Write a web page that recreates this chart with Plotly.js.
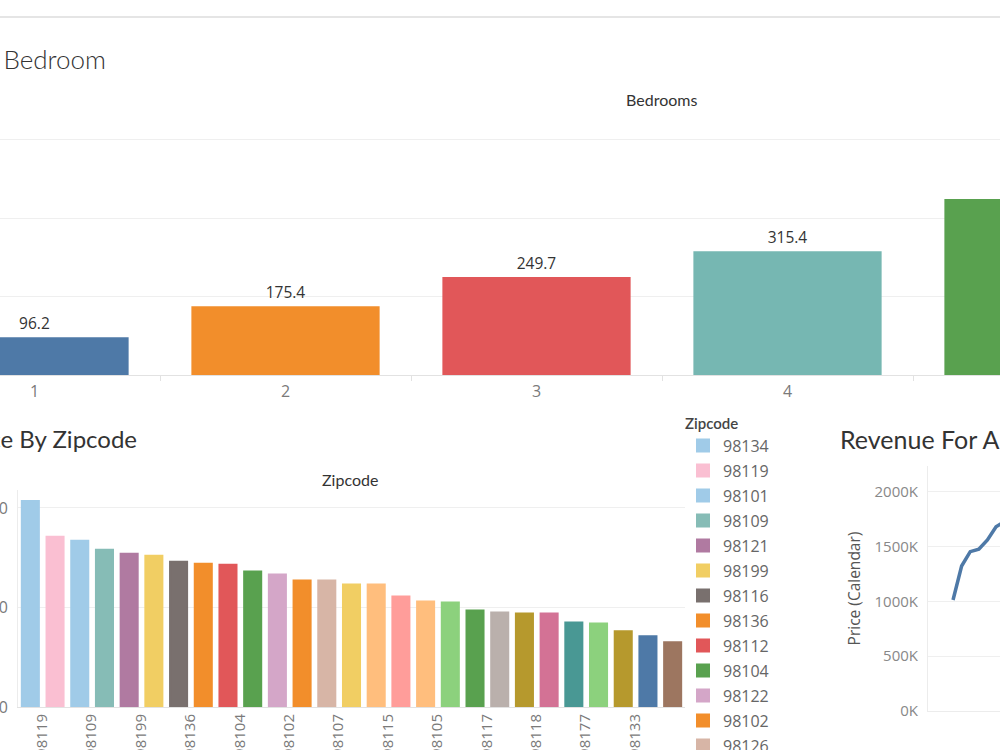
<!DOCTYPE html>
<html>
<head>
<meta charset="utf-8">
<script src="https://cdn.plot.ly/plotly-3.0.1.min.js"></script>
<style>
  html, body { margin: 0; padding: 0; width: 1000px; height: 750px; overflow: hidden; background: #ffffff; }
  /* the dashboard canvas is wider and taller than the window; it is scrolled so the left edge sits off view */
  #dash { position: absolute; left: -200px; top: 0; width: 1650px; height: 1150px; }
</style>
</head>
<body>
<div id="dash"></div>
<script>
// ---- Average nightly price by number of bedrooms ----
const bedroomCats = ['1', '2', '3', '4', '5'];
const bedroomPrice = [96.2, 175.4, 249.7, 315.4, 448.4];

// ---- Average nightly price by zipcode (sorted high to low) ----
const zipcodes = ['98134', '98119', '98101', '98109', '98121', '98199', '98116', '98136', '98112',
  '98104', '98122', '98102', '98126', '98107', '98103', '98115', '98144', '98105', '98146',
  '98117', '98178', '98118', '98108', '98177', '98106', '98133', '98125'];
const zipPrice = [207, 171, 167, 158, 154, 152, 146, 144, 143,
  136, 133, 127, 127, 123, 123, 111, 106, 105, 97,
  95, 94, 94, 85, 84, 76, 71, 65];

// ---- Weekly calendar revenue ----
const weekStart = ['2016-01-04', '2016-01-11', '2016-01-18', '2016-01-25', '2016-02-01', '2016-02-08', '2016-02-15'];
const revenueK = [1014, 1324, 1455, 1477, 1562, 1683, 1730];

// Tableau 10 / Tableau 20 colours
const bedroomColors = ['#4E79A7', '#F28E2B', '#E15759', '#76B7B2', '#59A14F'];
const zipColors = ['#A0CBE8', '#FABFD2', '#A0CBE8', '#86BCB6', '#B07AA1', '#F1CE63', '#79706E', '#F28E2B', '#E15759',
  '#59A14F', '#D4A6C8', '#F28E2B', '#D7B5A6', '#F1CE63', '#FFBE7D', '#FF9D9A', '#FFBE7D', '#8CD17D', '#59A14F',
  '#BAB0AC', '#B6992D', '#D37295', '#499894', '#8CD17D', '#B6992D', '#4E79A7', '#9D7660'];

// canvas size, used to place panels in paper fractions
const W = 1650, H = 1150, OX = 200;
const px = x => (x + OX) / W;
const py = y => 1 - y / H;

const NUM_FONT = '"Open Sans", "Noto Sans", sans-serif';
const TITLE_FONT = 'Lato, "Open Sans", sans-serif';
const GRID = '#efefef';
const AXIS = '#e2e2e2';
const TICK = '#7a7a7a';

const traces = [];

traces.push({
  type: 'bar',
  x: bedroomCats,
  y: bedroomPrice,
  xaxis: 'x', yaxis: 'y',
  width: 0.75,
  marker: { color: bedroomColors },
  texttemplate: '%{y:.1f}',
  textposition: 'outside',
  textfont: { family: NUM_FONT, size: 15.5, color: '#333333' },
  cliponaxis: false,
  showlegend: false,
  hovertemplate: 'Bedrooms %{x}<br>Avg. Price %{y:.1f}<extra></extra>'
});

zipcodes.forEach((z, i) => {
  traces.push({
    type: 'bar',
    x: [z],
    y: [zipPrice[i]],
    name: z,
    legendgroup: z,
    xaxis: 'x2', yaxis: 'y2',
    width: 0.69,
    marker: { color: zipColors[i], line: { color: zipColors[i], width: 2 } },
    hovertemplate: 'Zipcode %{x}<br>Avg. Price %{y}<extra></extra>'
  });
});

traces.push({
  type: 'scatter',
  mode: 'lines',
  x: weekStart,
  y: revenueK,
  xaxis: 'x3', yaxis: 'y3',
  line: { color: '#4E79A7', width: 3.5 },
  showlegend: false,
  hovertemplate: '%{x}<br>%{y}K<extra></extra>'
});

const layout = {
  width: W, height: H,
  margin: { l: 0, r: 0, t: 0, b: 0, pad: 0 },
  paper_bgcolor: '#ffffff',
  plot_bgcolor: 'rgba(0,0,0,0)',
  barmode: 'overlay',
  font: { family: NUM_FONT, color: '#555555' },
  showlegend: true,

  xaxis: {
    domain: [px(-91), px(1164)],
    anchor: 'y',
    type: 'category',
    showgrid: false,
    showline: true, linecolor: AXIS, linewidth: 1,
    ticks: 'outside', tickson: 'boundaries', ticklen: 5, tickcolor: AXIS,
    ticklabelstandoff: 2,
    tickfont: { family: NUM_FONT, size: 16, color: TICK },
    fixedrange: true
  },
  yaxis: {
    domain: [py(375), py(116)],
    anchor: 'x',
    range: [0, 660],
    dtick: 200,
    showgrid: true, gridcolor: GRID,
    zeroline: false,
    tickfont: { family: NUM_FONT, size: 15, color: TICK },
    fixedrange: true
  },

  xaxis2: {
    domain: [px(18), px(685)],
    anchor: 'y2',
    type: 'category',
    categoryorder: 'array', categoryarray: zipcodes,
    tickmode: 'array',
    tickvals: zipcodes.filter((z, i) => i % 2 === 1),
    ticktext: zipcodes.filter((z, i) => i % 2 === 1),
    tickangle: -90,
    ticklabelshift: -13,
    ticklabelstandoff: 0,
    showgrid: false,
    showline: true, linecolor: AXIS, linewidth: 1,
    tickfont: { family: NUM_FONT, size: 15, color: TICK },
    fixedrange: true
  },
  yaxis2: {
    domain: [py(707), py(490)],
    anchor: 'x2',
    range: [0, 218],
    dtick: 100,
    showgrid: true, gridcolor: GRID,
    zeroline: false,
    showline: true, linecolor: '#ececec', linewidth: 1,
    ticklabelstandoff: 6,
    tickfont: { family: NUM_FONT, size: 16, color: TICK },
    fixedrange: true
  },

  xaxis3: {
    domain: [px(928), 1],
    anchor: 'y3',
    type: 'date',
    range: ['2015-12-14 15:00', '2017-02-11 12:00'],
    showgrid: false,
    showticklabels: false,
    showline: true, linecolor: '#ececec', linewidth: 1,
    fixedrange: true
  },
  yaxis3: {
    domain: [py(711), py(466)],
    anchor: 'x3',
    range: [0, 2237],
    dtick: 500,
    ticksuffix: 'K',
    showgrid: true, gridcolor: GRID,
    zeroline: false,
    showline: true, linecolor: '#ececec', linewidth: 1,
    ticklabelstandoff: 6,
    tickfont: { family: NUM_FONT, size: 15, color: '#888888' },
    title: { text: 'Price (Calendar)', font: { family: NUM_FONT, size: 15.5, color: '#555555' }, standoff: 10 },
    fixedrange: true
  },

  legend: {
    x: px(683), xanchor: 'left',
    y: py(409), yanchor: 'top',
    traceorder: 'grouped',
    tracegroupgap: 1.2,
    bgcolor: 'rgba(0,0,0,0)',
    borderwidth: 0,
    font: { family: NUM_FONT, size: 16, color: '#666666' },
    title: { text: 'Zipcode', font: { family: TITLE_FONT, size: 15, color: '#444444', weight: 600 } }
  },

  annotations: [
    { text: 'Average Price By Bedroom', xref: 'paper', yref: 'paper', x: px(108), y: py(59),
      xanchor: 'right', yanchor: 'middle', showarrow: false,
      font: { family: TITLE_FONT, size: 26, weight: 300, color: '#333333' } },
    { text: 'Bedrooms', xref: 'paper', yref: 'paper', x: px(661), y: py(99),
      xanchor: 'center', yanchor: 'middle', showarrow: false,
      font: { family: TITLE_FONT, size: 16, color: '#333333' } },
    { text: 'Average Price By Zipcode', xref: 'paper', yref: 'paper', x: px(139), y: py(439),
      xanchor: 'right', yanchor: 'middle', showarrow: false,
      font: { family: TITLE_FONT, size: 24, color: '#333333' } },
    { text: 'Zipcode', xref: 'paper', yref: 'paper', x: px(350), y: py(479),
      xanchor: 'center', yanchor: 'middle', showarrow: false,
      font: { family: TITLE_FONT, size: 16, color: '#333333' } },
    { text: 'Revenue For All Listings', xref: 'paper', yref: 'paper', x: px(838), y: py(439),
      xanchor: 'left', yanchor: 'middle', showarrow: false,
      font: { family: TITLE_FONT, size: 25, color: '#333333' } }
  ],

  shapes: [
    { type: 'line', xref: 'paper', yref: 'paper', x0: 0, x1: 1, y0: py(17), y1: py(17),
      line: { color: '#dddddd', width: 1.5 } }
  ]
};

Plotly.newPlot('dash', traces, layout, { displayModeBar: false, responsive: false });
</script>
</body>
</html>
